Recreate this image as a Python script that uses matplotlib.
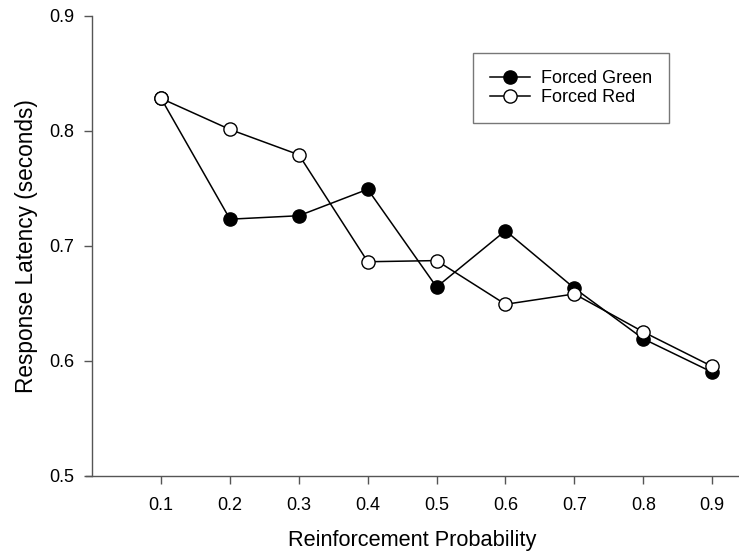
import matplotlib
matplotlib.use("Agg")
import matplotlib.pyplot as plt

plt.rcParams["font.family"] = ["Liberation Sans", "DejaVu Sans"]

probability = [0.1, 0.2, 0.3, 0.4, 0.5, 0.6, 0.7, 0.8, 0.9]
forced_green = [0.828, 0.723, 0.726, 0.749, 0.664, 0.713, 0.663, 0.619, 0.590]
forced_red = [0.828, 0.801, 0.779, 0.686, 0.687, 0.649, 0.658, 0.625, 0.595]
y_ticks = [0.5, 0.6, 0.7, 0.8, 0.9]

fig = plt.figure(figsize=(7.39, 5.57), dpi=100)
ax = fig.add_axes([0.1164, 0.146, 0.8836, 0.826])

ax.plot(probability, forced_green, color="black", lw=1.1, marker="o",
        ms=9.5, mfc="black", mec="black", mew=1.0, label="Forced Green", zorder=3)
ax.plot(probability, forced_red, color="black", lw=1.1, marker="o",
        ms=9.5, mfc="white", mec="black", mew=1.0, label="Forced Red", zorder=4)

ax.set_xlim(-0.009, 0.939)
ax.set_ylim(0.5, 0.9)
ax.set_xticks(probability)
ax.set_xticklabels([f"{p:.1f}" for p in probability])
ax.set_yticks(y_ticks)
ax.set_yticklabels([f"{v:.1f}" for v in y_ticks])

for side in ("top", "right"):
    ax.spines[side].set_visible(False)
ax.spines["left"].set_position(("data", 0.0))
for side in ("left", "bottom"):
    ax.spines[side].set_color("#555555")
    ax.spines[side].set_linewidth(1.0)
ax.tick_params(direction="out", length=6, width=1.0, color="#555555",
               labelsize=13, pad=7)
ax.tick_params(axis="x", pad=9)

ax.set_xlabel("Reinforcement Probability", fontsize=15.7, labelpad=12)
ax.set_ylabel("Response Latency (seconds)", fontsize=16.3, labelpad=8)

leg = ax.legend(loc="upper left", bbox_to_anchor=(0.5926, 0.919), fontsize=13,
                frameon=True, fancybox=False, edgecolor="#555555",
                handlelength=2.2, borderpad=0.95, labelspacing=0.1,
                handletextpad=0.6, borderaxespad=0)
leg.get_frame().set_linewidth(1.0)

fig.savefig("out.png", dpi=100)
